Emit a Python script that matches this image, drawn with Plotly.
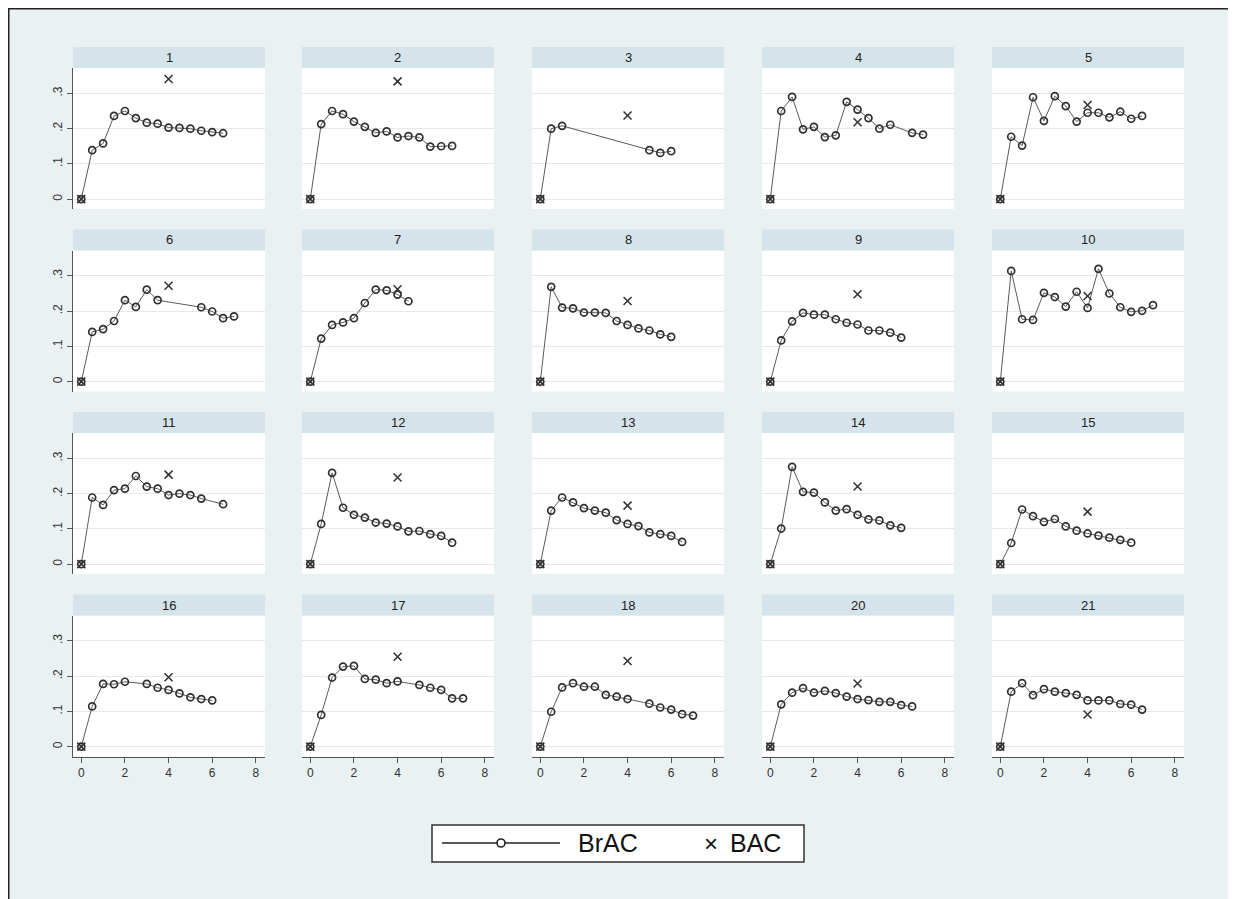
import plotly.graph_objects as go

# ---------------- data ----------------
panel_ids = [1, 2, 3, 4, 5, 6, 7, 8, 9, 10, 11, 12, 13, 14, 15, 16, 17, 18, 20, 21]

grid_65 = [0, 0.5, 1, 1.5, 2, 2.5, 3, 3.5, 4, 4.5, 5, 5.5, 6, 6.5]
grid_60 = [0, 0.5, 1, 1.5, 2, 2.5, 3, 3.5, 4, 4.5, 5, 5.5, 6]
grid_70 = [0, 0.5, 1, 1.5, 2, 2.5, 3, 3.5, 4, 4.5, 5, 5.5, 6, 6.5, 7]

t_01 = grid_65
y_01 = [0, .139, .158, .236, .250, .230, .217, .214, .203, .202, .200, .194, .190, .187]
t_02 = grid_65
y_02 = [0, .213, .250, .241, .220, .205, .188, .192, .175, .179, .175, .149, .150, .151]
t_03 = [0, 0.5, 1, 5, 5.5, 6]
y_03 = [0, .200, .208, .139, .131, .136]
t_04 = [0, 0.5, 1, 1.5, 2, 2.5, 3, 3.5, 4, 4.5, 5, 5.5, 6.5, 7]
y_04 = [0, .250, .290, .198, .205, .176, .181, .276, .254, .230, .200, .211, .188, .183]
t_05 = grid_65
y_05 = [0, .177, .152, .289, .222, .292, .264, .220, .245, .245, .232, .248, .228, .236]
t_06 = [0, 0.5, 1, 1.5, 2, 2.5, 3, 3.5, 5.5, 6, 6.5, 7]
y_06 = [0, .141, .149, .172, .231, .212, .261, .231, .211, .199, .180, .185]
t_07 = [0, 0.5, 1, 1.5, 2, 2.5, 3, 3.5, 4, 4.5]
y_07 = [0, .122, .161, .168, .180, .223, .261, .259, .247, .228]
t_08 = grid_60
y_08 = [0, .269, .210, .208, .196, .196, .195, .172, .161, .151, .145, .134, .127]
t_09 = grid_60
y_09 = [0, .117, .171, .195, .190, .190, .177, .167, .162, .145, .145, .139, .125]
t_10 = grid_70
y_10 = [0, .314, .177, .175, .252, .240, .213, .255, .209, .320, .250, .211, .198, .201, .217]
t_11 = [0, 0.5, 1, 1.5, 2, 2.5, 3, 3.5, 4, 4.5, 5, 5.5, 6.5]
y_11 = [0, .189, .168, .210, .214, .250, .220, .214, .196, .200, .196, .186, .170]
t_12 = grid_65
y_12 = [0, .114, .259, .160, .140, .132, .118, .115, .107, .093, .094, .085, .080, .061]
t_13 = grid_65
y_13 = [0, .152, .189, .175, .159, .152, .146, .125, .114, .108, .090, .085, .080, .063]
t_14 = grid_60
y_14 = [0, .101, .276, .205, .203, .175, .152, .156, .140, .127, .124, .110, .103]
t_15 = grid_60
y_15 = [0, .060, .155, .136, .120, .128, .107, .095, .087, .081, .075, .069, .061]
t_16 = [0, 0.5, 1, 1.5, 2, 3, 3.5, 4, 4.5, 5, 5.5, 6]
y_16 = [0, .114, .178, .177, .184, .178, .167, .161, .151, .140, .135, .131]
t_17 = [0, 0.5, 1, 1.5, 2, 2.5, 3, 3.5, 4, 5, 5.5, 6, 6.5, 7]
y_17 = [0, .090, .196, .227, .229, .192, .190, .180, .185, .175, .167, .161, .137, .137]
t_18 = [0, 0.5, 1, 1.5, 2, 2.5, 3, 3.5, 4, 5, 5.5, 6, 6.5, 7]
y_18 = [0, .099, .168, .180, .170, .170, .147, .142, .135, .122, .111, .105, .092, .088]
t_20 = grid_65
y_20 = [0, .120, .153, .166, .153, .158, .152, .142, .135, .132, .127, .127, .118, .114]
t_21 = grid_65
y_21 = [0, .156, .180, .146, .163, .156, .152, .147, .131, .131, .131, .121, .119, .105]

brac_times = [t_01, t_02, t_03, t_04, t_05, t_06, t_07, t_08, t_09, t_10,
              t_11, t_12, t_13, t_14, t_15, t_16, t_17, t_18, t_20, t_21]
brac_values = [y_01, y_02, y_03, y_04, y_05, y_06, y_07, y_08, y_09, y_10,
               y_11, y_12, y_13, y_14, y_15, y_16, y_17, y_18, y_20, y_21]

bac_times = [0, 4]
bac_at_4 = [.341, .334, .237, .218, .267, .272, .262, .229, .248, .243,
            .254, .246, .166, .220, .149, .197, .255, .243, .179, .091]

x_ticks = [0, 2, 4, 6, 8]
y_ticks = [0, 0.1, 0.2, 0.3]
y_tick_text = ["0", ".1", ".2", ".3"]

# ---------------- layout geometry (page pixels) ----------------
OFF = 8                      # default body margin of the html page
W, H = 1228, 891             # figure size, reaching the window edges
col_left = [73, 302, 532, 762, 992]
panel_w = 192
row_top = [47, 229.5, 412, 594.5]
header_h = 21
plot_h = 141

def px(x):
    return (x - OFF) / W

def py(y):
    return 1 - (y - OFF) / H

BG = "#e9f1f3"
HEADER = "#d5e3ea"
INK = "#333333"
FONT = "Liberation Sans, Arial, sans-serif"

fig = go.Figure()
shapes = []
annotations = []

layout_axes = {}
for i, pid in enumerate(panel_ids):
    r, c = divmod(i, 5)
    n = i + 1
    xname = "xaxis" if n == 1 else f"xaxis{n}"
    yname = "yaxis" if n == 1 else f"yaxis{n}"
    xref = "x" if n == 1 else f"x{n}"
    yref = "y" if n == 1 else f"y{n}"

    left = col_left[c]
    top_h = row_top[r]
    top_p = top_h + header_h
    bottom = top_p + plot_h

    bottom_row = (r == 3)
    first_col = (c == 0)

    layout_axes[xname] = dict(
        domain=[px(left), px(left + panel_w)],
        anchor=yref,
        range=[-0.38, 8.42],
        tickvals=x_ticks,
        showticklabels=bottom_row,
        ticks="outside" if bottom_row else "",
        ticklen=5, tickcolor="#555", tickwidth=1,
        showline=bottom_row, linecolor="#555", linewidth=1,
        showgrid=False, zeroline=False,
        tickfont=dict(size=12, color=INK, family=FONT),
    )
    layout_axes[yname] = dict(
        domain=[py(bottom), py(top_p)],
        anchor=xref,
        range=[-0.028, 0.372],
        tickvals=y_ticks,
        ticktext=y_tick_text,
        showticklabels=first_col,
        ticks="outside" if first_col else "",
        ticklen=5, tickcolor="#555", tickwidth=1,
        tickangle=-90,
        showline=first_col, linecolor="#555", linewidth=1,
        showgrid=True, gridcolor="#e3eaee", gridwidth=1,
        zeroline=False,
        tickfont=dict(size=12, color=INK, family=FONT),
    )

    # header strip
    shapes.append(dict(type="rect", xref="paper", yref="paper",
                       x0=px(left), x1=px(left + panel_w),
                       y0=py(top_p), y1=py(top_h),
                       fillcolor=HEADER, line=dict(width=0), layer="below"))
    annotations.append(dict(text=str(pid), xref="paper", yref="paper",
                            x=px(left + panel_w / 2), y=py(top_h + header_h / 2),
                            xanchor="center", yanchor="middle", showarrow=False,
                            font=dict(size=13, color="#222", family=FONT)))

    fig.add_trace(go.Scatter(
        x=brac_times[i], y=brac_values[i], mode="lines+markers",
        line=dict(color="#5a5a5a", width=1),
        marker=dict(symbol="circle-open", size=7, color="#303030",
                    line=dict(width=1.7, color="#303030")),
        xaxis=xref, yaxis=yref, showlegend=False, name="BrAC"))
    fig.add_trace(go.Scatter(
        x=bac_times, y=[0, bac_at_4[i]], mode="markers",
        marker=dict(symbol="x-thin-open", size=8, color="#303030",
                    line=dict(width=1.5, color="#303030")),
        xaxis=xref, yaxis=yref, showlegend=False, name="BAC"))

# ---------------- legend (drawn) ----------------
lg_y = 843
shapes.append(dict(type="rect", xref="paper", yref="paper",
                   x0=px(432), x1=px(804), y0=py(862), y1=py(825),
                   fillcolor="white", line=dict(color="#333", width=1.5)))
shapes.append(dict(type="line", xref="paper", yref="paper",
                   x0=px(442), x1=px(560), y0=py(lg_y), y1=py(lg_y),
                   line=dict(color="#222", width=1.3)))
shapes.append(dict(type="circle", xref="paper", yref="paper",
                   x0=px(497), x1=px(505), y0=py(lg_y + 4), y1=py(lg_y - 4),
                   fillcolor="white", line=dict(color="#222", width=1.6)))
annotations.append(dict(text="BrAC", xref="paper", yref="paper",
                        x=px(576), y=py(lg_y), xanchor="left", yanchor="middle",
                        showarrow=False, font=dict(size=25, color="#111", family=FONT)))
annotations.append(dict(text="×", xref="paper", yref="paper",
                        x=px(711), y=py(lg_y), xanchor="center", yanchor="middle",
                        showarrow=False, font=dict(size=24, color="#111", family=FONT)))
annotations.append(dict(text="BAC", xref="paper", yref="paper",
                        x=px(728), y=py(lg_y), xanchor="left", yanchor="middle",
                        showarrow=False, font=dict(size=25, color="#111", family=FONT)))

# outer frame (top and left edges of the figure)
shapes.append(dict(type="line", xref="paper", yref="paper",
                   x0=0, x1=1, y0=1, y1=1,
                   line=dict(color="#222", width=3)))
shapes.append(dict(type="line", xref="paper", yref="paper",
                   x0=0, x1=0, y0=1, y1=0,
                   line=dict(color="#222", width=3)))

fig.update_layout(
    width=W, height=H, autosize=False,
    margin=dict(l=0, r=0, t=0, b=0),
    paper_bgcolor=BG, plot_bgcolor="white",
    shapes=shapes, annotations=annotations,
    font=dict(family=FONT, color=INK),
    **layout_axes,
)

fig.write_html("out.html")
